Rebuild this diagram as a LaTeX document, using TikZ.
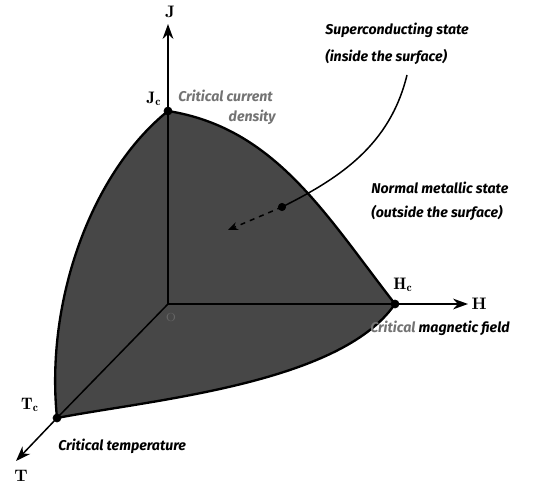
\documentclass[tikz,border=0pt]{standalone}
\usepackage{amsmath, amssymb, bm}
\usepackage{fontspec}
\newfontfamily\handfont{Fira Sans}
\usetikzlibrary{arrows.meta, positioning, calc}

\tikzset{
  note/.style={font=\handfont\itshape\bfseries\fontsize{8.5}{9}\selectfont, inner sep=0pt, anchor=west},
  greynote/.style={note, text=black!55},
  axlabel/.style={font=\bfseries\fontsize{10}{10}\selectfont, inner sep=0pt},
  edge/.style={line width=1.4pt, line join=round},
  axis/.style={line width=0.9pt},
}

\begin{document}
\begin{tikzpicture}[x=0.6pt, y=-0.6pt, >={Stealth[length=9pt,width=6.5pt]}]
  \useasboundingbox (0,0) rectangle (534,483);

  \coordinate (O) at (168,304);
  \coordinate (Jc) at (168,111);
  \coordinate (Hc) at (395,304);
  \coordinate (Tc) at (57,418);
  \coordinate (Jend) at (168,24);
  \coordinate (Hend) at (468,304);
  \coordinate (Tend) at (16,461);
  \coordinate (top) at (407,75);
  \coordinate (dot) at (282,207);
  \coordinate (tip) at (228,230);

  % critical surface
  \filldraw[edge, fill=black!72]
    (Jc) .. controls (275,128) and (325,214) .. (Hc)
    .. controls (340,384) and (150,400) .. (Tc)
    .. controls (45,300) and (92,172) .. (Jc) -- cycle;

  \draw[axis] (O) -- (Jc);
  \draw[axis] (O) -- (Hc);
  \draw[axis] (O) -- (Tc);
  \draw[axis, ->] (Jc) -- (Jend);
  \draw[axis, ->] (Hc) -- (Hend);
  \draw[axis, ->] (Tc) -- (Tend);

  \filldraw (Jc) circle (2.4pt);
  \filldraw (Hc) circle (2.4pt);
  \filldraw (Tc) circle (2.4pt);

  % state pointer
  \draw[line width=0.9pt] (top) .. controls (390,145) and (340,178) .. (dot);
  \filldraw (dot) circle (2.2pt);
  \draw[->, dashed, line width=0.9pt, >={Stealth[length=6pt,width=5pt]}] (dot) -- (tip);

  \node[axlabel] (lJ) at (170,12) {J};
  \node[axlabel] (lJc) at (154,99) {$\mathbf{J}_{\mathbf{c}}$};
  \node[axlabel] (lHc) at (403,285) {$\mathbf{H}_{\mathbf{c}}$};
  \node[axlabel] (lH) at (479,304) {H};
  \node[axlabel] (lTc) at (30,405) {$\mathbf{T}_{\mathbf{c}}$};
  \node[axlabel] (lT) at (21,476) {T};
  \node[font=\fontsize{7}{7}\selectfont, text=black!60, inner sep=0pt] (lO) at (171,318) {O};

  \node[greynote] (ccd) at (178,96) {Critical current};
  \node[greynote, anchor=east] (dens) at (276,117) {density};
  \node[note] (sc1) at (325,30) {Superconducting state};
  \node[note] (sc2) at (325,57) {(inside the surface)};
  \node[note] (nm1) at (371,188) {Normal metallic state};
  \node[note] (nm2) at (371,213) {(outside the surface)};
  \node[note] (cmf) at (370,328) {\textcolor{black!55}{Critical} magnetic field};
  \node[note] (ct) at (58,446) {Critical temperature};
\end{tikzpicture}
\end{document}
